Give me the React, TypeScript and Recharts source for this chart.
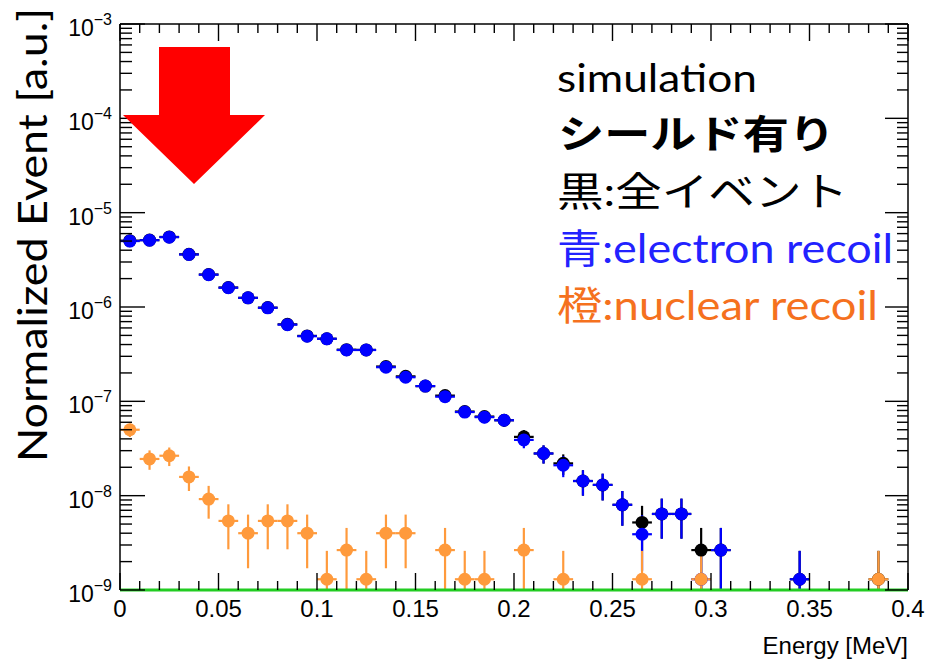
import { ScatterChart, Scatter, XAxis, YAxis, ErrorBar } from 'recharts';

// bin centres [MeV], bin width 0.01
const BIN_HALF = 0.005;
const Y_MIN = 1e-9;
const Y_MAX = 1e-3;

// black: all events
const ALL_X = [
  0.005, 0.015, 0.025, 0.035, 0.045, 0.055, 0.065, 0.075, 0.085, 0.095, 0.105,
  0.115, 0.125, 0.135, 0.145, 0.155, 0.165, 0.175, 0.185, 0.195, 0.205, 0.215,
  0.225, 0.235, 0.245, 0.255, 0.265, 0.275, 0.285, 0.295, 0.305, 0.345, 0.385,
];
const ALL_Y = [
  5.05e-6, 5.12e-6, 5.53e-6, 3.62e-6, 2.21e-6, 1.61e-6, 1.25e-6, 9.85e-7, 6.55e-7,
  4.94e-7, 4.61e-7, 3.53e-7, 3.51e-7, 2.34e-7, 1.84e-7, 1.45e-7, 1.15e-7, 7.8e-8,
  6.9e-8, 6.3e-8, 4.2e-8, 2.8e-8, 2.2e-8, 1.43e-8, 1.3e-8, 8.0e-9, 5.2e-9, 6.4e-9,
  6.4e-9, 2.65e-9, 2.65e-9, 1.3e-9, 1.3e-9,
];
const ALL_ERR = [
  8.1e-8, 8.2e-8, 8.5e-8, 6.9e-8, 5.4e-8, 4.6e-8, 4.1e-8, 3.6e-8, 2.9e-8, 2.6e-8,
  2.5e-8, 2.2e-8, 2.2e-8, 1.8e-8, 1.6e-8, 1.4e-8, 1.2e-8, 1.0e-8, 9.6e-9, 9.1e-9,
  7.5e-9, 6.1e-9, 5.4e-9, 4.3e-9, 4.1e-9, 3.2e-9, 2.6e-9, 2.9e-9, 2.9e-9, 1.9e-9,
  1.9e-9, 1.3e-9, 1.3e-9,
];

// blue: electron recoil
const ER_X = [
  0.005, 0.015, 0.025, 0.035, 0.045, 0.055, 0.065, 0.075, 0.085, 0.095, 0.105,
  0.115, 0.125, 0.135, 0.145, 0.155, 0.165, 0.175, 0.185, 0.195, 0.205, 0.215,
  0.225, 0.235, 0.245, 0.255, 0.265, 0.275, 0.285, 0.295, 0.305, 0.345,
];
const ER_Y = [
  5.0e-6, 5.1e-6, 5.5e-6, 3.6e-6, 2.2e-6, 1.6e-6, 1.25e-6, 9.8e-7, 6.5e-7, 4.9e-7,
  4.6e-7, 3.5e-7, 3.5e-7, 2.3e-7, 1.8e-7, 1.45e-7, 1.12e-7, 7.7e-8, 6.8e-8, 6.3e-8,
  3.9e-8, 2.8e-8, 2.1e-8, 1.43e-8, 1.3e-8, 8.0e-9, 3.9e-9, 6.4e-9, 6.4e-9, 1.3e-9,
  2.65e-9, 1.3e-9,
];
const ER_ERR = [
  8.1e-8, 8.2e-8, 8.5e-8, 6.9e-8, 5.4e-8, 4.6e-8, 4.1e-8, 3.6e-8, 2.9e-8, 2.5e-8,
  2.5e-8, 2.1e-8, 2.1e-8, 1.7e-8, 1.5e-8, 1.4e-8, 1.2e-8, 1.0e-8, 9.5e-9, 9.1e-9,
  7.2e-9, 6.1e-9, 5.3e-9, 4.3e-9, 4.1e-9, 3.2e-9, 2.3e-9, 2.9e-9, 2.9e-9, 1.3e-9,
  1.9e-9, 1.3e-9,
];

// orange: nuclear recoil
const NR_X = [
  0.005, 0.015, 0.025, 0.035, 0.045, 0.055, 0.065, 0.075, 0.085, 0.095, 0.105,
  0.115, 0.125, 0.135, 0.145, 0.165, 0.175, 0.185, 0.205, 0.225, 0.265, 0.295, 0.385,
];
const NR_Y = [
  5.0e-8, 2.45e-8, 2.65e-8, 1.58e-8, 9.2e-9, 5.4e-9, 4.0e-9, 5.4e-9, 5.4e-9, 4.0e-9,
  1.3e-9, 2.65e-9, 1.3e-9, 4.0e-9, 4.0e-9, 2.65e-9, 1.3e-9, 1.3e-9, 2.65e-9, 1.3e-9,
  1.3e-9, 1.3e-9, 1.3e-9,
];
const NR_ERR = [
  8.1e-9, 5.7e-9, 5.9e-9, 4.6e-9, 3.5e-9, 2.7e-9, 2.3e-9, 2.7e-9, 2.7e-9, 2.3e-9,
  1.3e-9, 1.9e-9, 1.3e-9, 2.3e-9, 2.3e-9, 1.9e-9, 1.3e-9, 1.3e-9, 1.9e-9, 1.3e-9,
  1.3e-9, 1.3e-9, 1.3e-9,
];

const X_MAJOR = [0, 0.05, 0.1, 0.15, 0.2, 0.25, 0.3, 0.35, 0.4];
const X_LABELS = ['0', '0.05', '0.1', '0.15', '0.2', '0.25', '0.3', '0.35', '0.4'];
const X_TICKS = Array.from({ length: 41 }, (_, i) => i / 100);

const Y_DECADES = [1e-9, 1e-8, 1e-7, 1e-6, 1e-5, 1e-4, 1e-3];
const Y_EXPONENTS = ['−9', '−8', '−7', '−6', '−5', '−4', '−3'];
const Y_TICKS = Y_DECADES.flatMap((d, i) =>
  i === Y_DECADES.length - 1 ? [d] : [1, 2, 3, 4, 5, 6, 7, 8, 9].map((m) => m * d)
);

const C_ALL = '#000000';
const C_ER = '#0000ff';
const C_NR = '#ff9a3c';

// lower error clipped at the frame bottom (log axis)
const rows = (xs: number[], ys: number[], errs: number[]) =>
  xs.map((x, i) => ({
    x,
    y: ys[i],
    ey: [Math.min(errs[i], ys[i] - Y_MIN), errs[i]],
    ex: BIN_HALF,
  }));

const majorXIndex = (v: number) => X_MAJOR.findIndex((m) => Math.abs(m - v) < 1e-9);
const decadeIndex = (v: number) =>
  Y_DECADES.findIndex((d) => Math.abs(v / d - 1) < 1e-6);

const TICK_FONT = "'Liberation Sans', Arial, sans-serif";
const ANNOT_FONT = "Lato, 'Noto Sans CJK JP', sans-serif";

function BottomTick(props: any) {
  const { x, y, payload } = props;
  const idx = majorXIndex(payload.value);
  return (
    <g>
      <line x1={x} x2={x} y1={y} y2={y - (idx >= 0 ? 17 : 9)} stroke="#000" strokeWidth={1.4} />
      {idx >= 0 && (
        <text x={x} y={y + 27} textAnchor="middle" fontFamily={TICK_FONT} fontSize={24} fill="#000">
          {X_LABELS[idx]}
        </text>
      )}
    </g>
  );
}

function TopTick(props: any) {
  const { x, y, payload } = props;
  const major = majorXIndex(payload.value) >= 0;
  return <line x1={x} x2={x} y1={y} y2={y + (major ? 17 : 9)} stroke="#000" strokeWidth={1.4} />;
}

function LeftTick(props: any) {
  const { x, y, payload } = props;
  const idx = decadeIndex(payload.value);
  return (
    <g>
      <line x1={x} x2={x + (idx >= 0 ? 25 : 12)} y1={y} y2={y} stroke="#000" strokeWidth={1.4} />
      {idx >= 0 && (
        <text x={x - 8} y={y + 12} textAnchor="end" fontFamily={TICK_FONT} fontSize={23} fill="#000">
          10
          <tspan dy={-11} fontSize={16}>
            {Y_EXPONENTS[idx]}
          </tspan>
        </text>
      )}
    </g>
  );
}

function RightTick(props: any) {
  const { x, y, payload } = props;
  const major = decadeIndex(payload.value) >= 0;
  return <line x1={x} x2={x - (major ? 23 : 11)} y1={y} y2={y} stroke="#000" strokeWidth={1.4} />;
}

const dot = (color: string) => (p: any) => <circle cx={p.cx} cy={p.cy} r={6.5} fill={color} />;

export default function App() {
  const series = [
    { name: 'all', data: rows(ALL_X, ALL_Y, ALL_ERR), color: C_ALL },
    { name: 'er', data: rows(ER_X, ER_Y, ER_ERR), color: C_ER },
    { name: 'nr', data: rows(NR_X, NR_Y, NR_ERR), color: C_NR },
  ];

  return (
    <div style={{ position: 'absolute', left: 0, top: 0, width: 928, height: 660, background: '#fff' }}>
      <ScatterChart width={928} height={660} margin={{ top: 23, right: 19, bottom: 0, left: 0 }}>
        <XAxis
          xAxisId="b"
          dataKey="x"
          type="number"
          orientation="bottom"
          domain={[0, 0.4]}
          allowDataOverflow
          ticks={X_TICKS}
          interval={0}
          height={70}
          tickSize={0}
          tickMargin={0}
          tickLine={false}
          axisLine={{ stroke: '#22cc22', strokeWidth: 3 }}
          tick={BottomTick}
        />
        <XAxis
          xAxisId="t"
          dataKey="x"
          type="number"
          orientation="top"
          domain={[0, 0.4]}
          allowDataOverflow
          ticks={X_TICKS}
          interval={0}
          height={1}
          tickSize={0}
          tickMargin={0}
          tickLine={false}
          axisLine={{ stroke: '#000', strokeWidth: 1.5 }}
          tick={TopTick}
        />
        <YAxis
          yAxisId="l"
          dataKey="y"
          type="number"
          scale="log"
          orientation="left"
          domain={[Y_MIN, Y_MAX]}
          allowDataOverflow
          ticks={Y_TICKS}
          interval={0}
          width={120}
          tickSize={0}
          tickMargin={0}
          tickLine={false}
          axisLine={{ stroke: '#000', strokeWidth: 1.5 }}
          tick={LeftTick}
        />
        <YAxis
          yAxisId="r"
          dataKey="y"
          type="number"
          scale="log"
          orientation="right"
          domain={[Y_MIN, Y_MAX]}
          allowDataOverflow
          ticks={Y_TICKS}
          interval={0}
          width={1}
          tickSize={0}
          tickMargin={0}
          tickLine={false}
          axisLine={{ stroke: '#000', strokeWidth: 1.5 }}
          tick={RightTick}
        />
        {series.map((s) => (
          <Scatter
            key={s.name}
            name={s.name}
            data={s.data}
            xAxisId="b"
            yAxisId="l"
            dataKey="y"
            shape={dot(s.color)}
            isAnimationActive={false}
          >
            <ErrorBar dataKey="ey" direction="y" width={0} stroke={s.color} strokeWidth={2.2} />
            <ErrorBar dataKey="ex" direction="x" width={0} stroke={s.color} strokeWidth={2.2} />
          </Scatter>
        ))}
      </ScatterChart>

      <svg width={928} height={660} style={{ position: 'absolute', left: 0, top: 0, pointerEvents: 'none' }}>
        <polygon points="159,47 230,47 230,115 265,115 194,184 123,115 159,115" fill="#ff0000" />
        <text
          transform="translate(47,235) rotate(-90)"
          textAnchor="middle"
          fontFamily={ANNOT_FONT}
          fontSize={41}
          textLength={454}
          lengthAdjust="spacingAndGlyphs"
          fill="#000"
        >
          Normalized Event [a.u.]
        </text>
        <text x={908} y={654} textAnchor="end" fontFamily={TICK_FONT} fontSize={24} fill="#000">
          Energy [MeV]
        </text>
        <text x={557} y={92} fontFamily={ANNOT_FONT} fontSize={38} textLength={200} lengthAdjust="spacingAndGlyphs" fill="#000">
          simulation
        </text>
        <text x={558} y={148} fontFamily={ANNOT_FONT} fontSize={39} fontWeight={700} textLength={277} lengthAdjust="spacingAndGlyphs" fill="#000">
          シールド有り
        </text>
        <text x={557} y={206} fontFamily={ANNOT_FONT} fontSize={40} textLength={291} lengthAdjust="spacingAndGlyphs" fill="#000">
          黒:全イベント
        </text>
        <text x={557} y={263} fontFamily={ANNOT_FONT} fontSize={40} textLength={336} lengthAdjust="spacingAndGlyphs" fill="#2222ff">
          青:electron recoil
        </text>
        <text x={557} y={320} fontFamily={ANNOT_FONT} fontSize={40} textLength={321} lengthAdjust="spacingAndGlyphs" fill="#f5711e">
          橙:nuclear recoil
        </text>
      </svg>
    </div>
  );
}
